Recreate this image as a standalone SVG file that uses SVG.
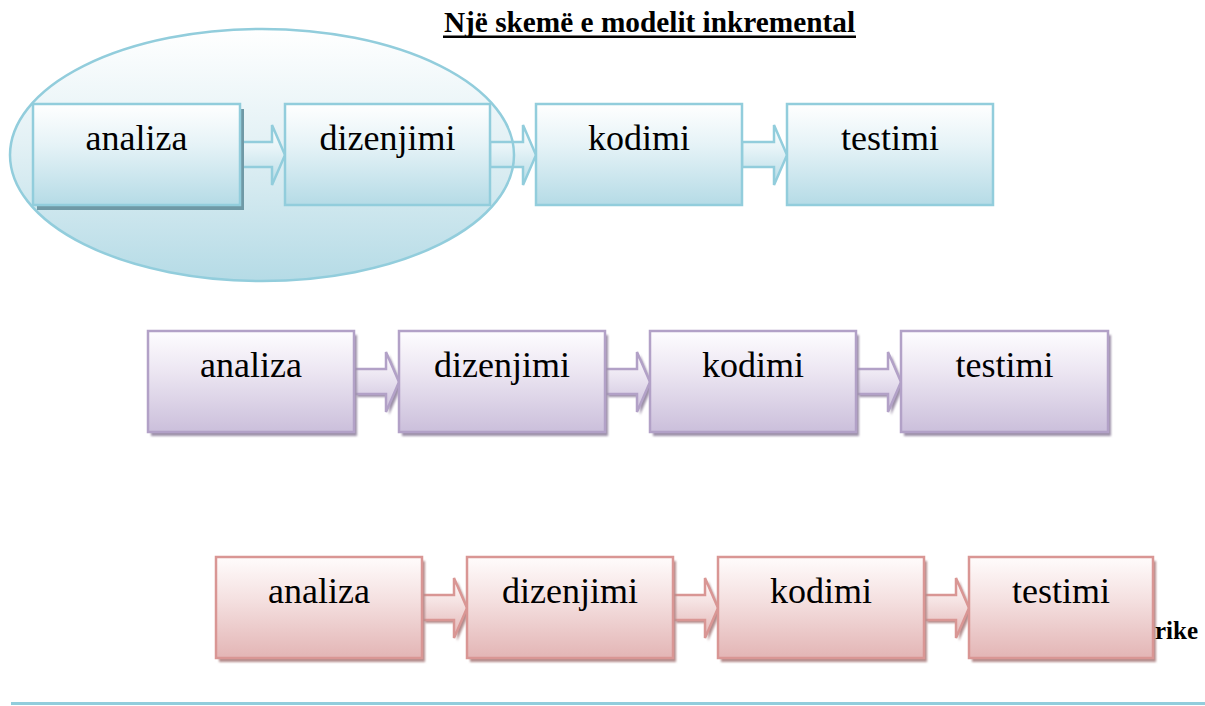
<svg xmlns="http://www.w3.org/2000/svg" width="1205" height="706" viewBox="0 0 1205 706">
<defs>
<linearGradient id="gB" x1="0" y1="0" x2="0" y2="1"><stop offset="0" stop-color="#ffffff"/><stop offset="0.4" stop-color="#e6f3f7"/><stop offset="1" stop-color="#b5dbe6"/></linearGradient>
<linearGradient id="gP" x1="0" y1="0" x2="0" y2="1"><stop offset="0" stop-color="#fefdff"/><stop offset="0.4" stop-color="#ece6f2"/><stop offset="1" stop-color="#cbbfdb"/></linearGradient>
<linearGradient id="gR" x1="0" y1="0" x2="0" y2="1"><stop offset="0" stop-color="#fffcfc"/><stop offset="0.4" stop-color="#f5e2e2"/><stop offset="1" stop-color="#e3b5b5"/></linearGradient>
<linearGradient id="gE" x1="0" y1="0" x2="0" y2="1"><stop offset="0" stop-color="#ffffff"/><stop offset="0.45" stop-color="#e3f1f5"/><stop offset="1" stop-color="#b5dbe6"/></linearGradient>
<filter id="soft" x="-5%" y="-5%" width="110%" height="115%"><feGaussianBlur stdDeviation="1"/></filter>
</defs>
<style>
.lbl{font-family:"Liberation Serif","Times New Roman",serif;font-size:36px;fill:#000;text-anchor:middle}
.ttl{font-family:"Liberation Serif","Times New Roman",serif;font-weight:bold;fill:#000}
.bB{fill:url(#gB);stroke:#92cddc;stroke-width:2.5}
.bP{fill:url(#gP);stroke:#b2a1c7;stroke-width:2.5}
.bR{fill:url(#gR);stroke:#d99694;stroke-width:2.5}
.sB{fill:#6f99a6}
.sP{fill:#9c90a8;filter:url(#soft)}
.sR{fill:#b48c8c;filter:url(#soft)}
</style>
<rect width="1205" height="706" fill="#ffffff"/>

<text class="ttl" x="649.5" y="32" font-size="29.3" text-anchor="middle">Një skemë e modelit inkremental</text>
<rect x="443" y="35.5" width="413" height="2.5" fill="#000"/>

<g id="ellipse">
<ellipse cx="262" cy="155" rx="252" ry="126" fill="url(#gE)"/>
</g>

<g id="connectors">
<path class="bB" d="M240,142 H272 V125 L285,155 L272,185 V167 H240 Z"/>
<path class="bB" d="M490,142 H523 V125 L536,155 L523,185 V167 H490 Z"/>
<path class="bB" d="M742,142 H774 V125 L787,155 L774,185 V167 H742 Z"/>
<path class="sP" d="M357,372 H389 V355 L402,385 L389,415 V397 H357 Z"/>
<path class="sP" d="M608,372 H640 V355 L653,385 L640,415 V397 H608 Z"/>
<path class="sP" d="M859,372 H891 V355 L904,385 L891,415 V397 H859 Z"/>
<path class="bP" d="M354,369 H386 V352 L399,382 L386,412 V394 H354 Z"/>
<path class="bP" d="M605,369 H637 V352 L650,382 L637,412 V394 H605 Z"/>
<path class="bP" d="M856,369 H888 V352 L901,382 L888,412 V394 H856 Z"/>
<path class="sR" d="M425,598 H457 V581 L470,611 L457,641 V623 H425 Z"/>
<path class="sR" d="M676,598 H708 V581 L721,611 L708,641 V623 H676 Z"/>
<path class="sR" d="M927,598 H959 V581 L972,611 L959,641 V623 H927 Z"/>
<path class="bR" d="M422,595 H454 V578 L467,608 L454,638 V620 H422 Z"/>
<path class="bR" d="M673,595 H705 V578 L718,608 L705,638 V620 H673 Z"/>
<path class="bR" d="M924,595 H956 V578 L969,608 L956,638 V620 H924 Z"/>
</g>

<g id="b1-analiza"><rect class="sB" x="37" y="109" width="207" height="101"/><rect class="bB" x="33" y="104" width="207" height="101"/><text class="lbl" x="136.5" y="150">analiza</text></g>
<g id="b1-dizenjimi"><rect class="bB" x="285" y="104" width="205" height="101"/><text class="lbl" x="387.5" y="150">dizenjimi</text></g>
<g id="b1-kodimi"><rect class="bB" x="536" y="104" width="206" height="101"/><text class="lbl" x="639" y="150">kodimi</text></g>
<g id="b1-testimi"><rect class="bB" x="787" y="104" width="206" height="101"/><text class="lbl" x="890" y="150">testimi</text></g>

<g id="ellipse-outline"><ellipse cx="262" cy="155" rx="252" ry="126" fill="none" stroke="#92cddc" stroke-width="2.5"/></g>

<g id="b2-analiza"><rect class="sP" x="151" y="335" width="206" height="101"/><rect class="bP" x="148" y="331" width="206" height="101"/><text class="lbl" x="251" y="377">analiza</text></g>
<g id="b2-dizenjimi"><rect class="sP" x="402" y="335" width="206" height="101"/><rect class="bP" x="399" y="331" width="206" height="101"/><text class="lbl" x="502" y="377">dizenjimi</text></g>
<g id="b2-kodimi"><rect class="sP" x="653" y="335" width="206" height="101"/><rect class="bP" x="650" y="331" width="206" height="101"/><text class="lbl" x="753" y="377">kodimi</text></g>
<g id="b2-testimi"><rect class="sP" x="904" y="335" width="207" height="101"/><rect class="bP" x="901" y="331" width="207" height="101"/><text class="lbl" x="1004.5" y="377">testimi</text></g>

<g id="b3-analiza"><rect class="sR" x="219" y="561" width="206" height="101"/><rect class="bR" x="216" y="557" width="206" height="101"/><text class="lbl" x="319" y="603">analiza</text></g>
<g id="b3-dizenjimi"><rect class="sR" x="470" y="561" width="206" height="101"/><rect class="bR" x="467" y="557" width="206" height="101"/><text class="lbl" x="570" y="603">dizenjimi</text></g>
<g id="b3-kodimi"><rect class="sR" x="721" y="561" width="206" height="101"/><rect class="bR" x="718" y="557" width="206" height="101"/><text class="lbl" x="821" y="603">kodimi</text></g>
<g id="b3-testimi"><rect class="sR" x="972" y="561" width="184" height="101"/><rect class="bR" x="969" y="557" width="184" height="101"/><text class="lbl" x="1061" y="603">testimi</text></g>

<text class="ttl" x="1155" y="639" font-size="25">rike</text>

<rect x="11" y="702" width="1194" height="3" fill="#92cddc"/>
</svg>
